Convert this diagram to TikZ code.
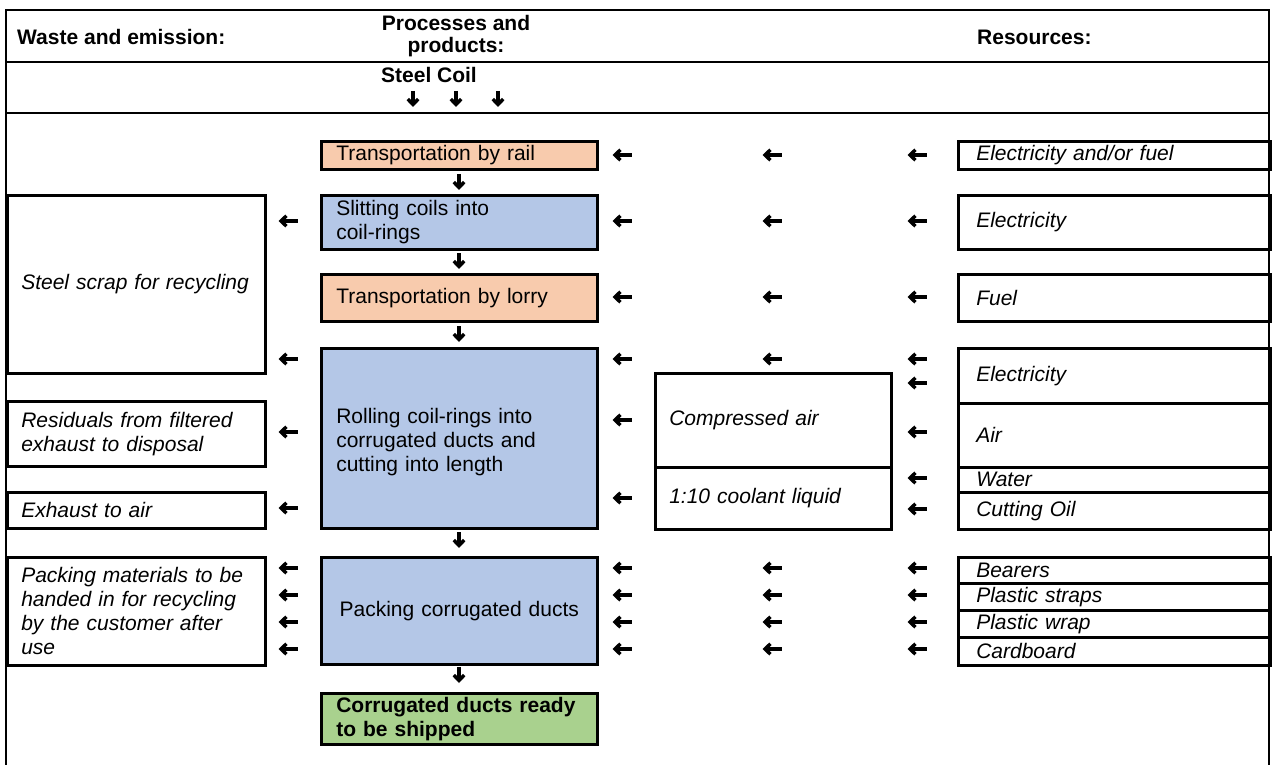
\documentclass[tikz,border=0pt]{standalone}
\usepackage{fontspec}
\setmainfont{Liberation Sans}
\usetikzlibrary{arrows.meta}
\definecolor{peach}{HTML}{F8CBAD}
\definecolor{lblue}{HTML}{B4C7E7}
\definecolor{lgreen}{HTML}{A9D18E}
\hyphenpenalty=10000
\exhyphenpenalty=10000
\newcommand\larr[2]{\draw[garr] (#1+9.5,#2) -- (#1-9.5,#2);}
\newcommand\darr[2]{\draw[garr] (#1,#2-8) -- (#1,#2+8);}
\begin{document}
\begin{tikzpicture}[x=1pt,y=-1pt,
  basefont/.style={font=\fontsize{21}{24}\selectfont},
  hdr/.style={basefont, font=\fontsize{21}{22.5}\selectfont\bfseries, inner sep=0pt},
  bx/.style={draw, line width=2.6pt, anchor=north west, inner ysep=0pt, align=left, basefont},
  pbox/.style={bx, text width=246pt, inner xsep=15pt},
  lbox/.style={bx, text width=230pt, inner xsep=14pt, font=\fontsize{21}{24}\selectfont\itshape},
  mbox/.style={bx, text width=208pt, inner xsep=14pt, font=\fontsize{21}{24}\selectfont\itshape},
  rbox/.style={bx, text width=276pt, inner xsep=18pt, font=\fontsize{21}{24}\selectfont\itshape},
  frame/.style={line width=2.6pt},
  garr/.style={line width=3.4pt, -{Straight Barb[length=5.5pt,width=10.5pt]}}
]
\useasboundingbox (0,0) rectangle (1275,765);
% frame
\draw[frame] (6,767) -- (6,10) -- (1269,10) -- (1269,767);
\draw[frame] (6,62) -- (1269,62);
\draw[frame] (6,113) -- (1269,113);
% headers
\node[hdr, anchor=west] (hw) at (17,37) {Waste and emission:};
\node[hdr, align=center] (hp) at (456,36) {Processes and\\products:};
\node[hdr, anchor=west] (hr) at (977,37) {Resources:};
\node[hdr] (coil) at (429,75) {Steel Coil};
\darr{413}{99}\darr{456}{99}\darr{498}{99}
% process column
\node[pbox, fill=peach, minimum height=28pt] (rail) at (320,140) {Transportation by rail};
\node[pbox, fill=lblue, minimum height=54pt] (slit) at (320,194) {Slitting coils into\\coil-rings};
\node[pbox, fill=peach, minimum height=47pt] (lorry) at (320,273) {Transportation by lorry};
\node[pbox, fill=lblue, minimum height=180pt] (roll) at (320,347) {\rule{0pt}{22pt}Rolling coil-rings into\\corrugated ducts and\\cutting into length};
\node[pbox, fill=lblue, minimum height=107pt, align=center] (pack) at (320,556) {Packing corrugated ducts};
\node[pbox, fill=lgreen, minimum height=51pt, font=\fontsize{21}{24}\selectfont\bfseries] (ship) at (320,692) {Corrugated ducts ready\\to be shipped};
\darr{459}{182}\darr{459}{261}\darr{459}{334}\darr{459}{540}\darr{459}{675}
% waste column
\node[lbox, minimum height=178pt] (scrap) at (6,194) {Steel scrap for recycling};
\node[lbox, minimum height=65pt] (resid) at (6,400) {Residuals from filtered\\exhaust to disposal};
\node[lbox, minimum height=36pt] (exh) at (6,491) {Exhaust to air};
\node[lbox, minimum height=108pt] (packm) at (6,556) {Packing materials to be\\handed in for recycling\\by the customer after\\use};
% middle
\node[mbox, minimum height=94pt] (cair) at (654,372) {Compressed air};
\node[mbox, minimum height=62pt] (cool) at (654,466) {1:10 coolant liquid};
% resources
\node[rbox, minimum height=28pt] (r1) at (957,140) {Electricity and/or fuel};
\node[rbox, minimum height=54pt] (r2) at (957,194) {Electricity};
\node[rbox, minimum height=47pt] (r3) at (957,273) {Fuel};
\node[rbox, minimum height=55pt] (r4) at (957,347) {Electricity};
\node[rbox, minimum height=64pt] (r5) at (957,402) {Air};
\node[rbox, minimum height=25pt] (r6) at (957,466) {Water};
\node[rbox, minimum height=37pt] (r7) at (957,491) {Cutting Oil};
\node[rbox, minimum height=26pt] (r8) at (957,556) {Bearers};
\node[rbox, minimum height=27pt] (r9) at (957,582) {Plastic straps};
\node[rbox, minimum height=27pt] (r10) at (957,609) {Plastic wrap};
\node[rbox, minimum height=28pt] (r11) at (957,636) {Cardboard};
% left arrows
\larr{622}{155}\larr{772}{155}\larr{917}{155}
\larr{288}{221}\larr{622}{221}\larr{772}{221}\larr{917}{221}
\larr{622}{297}\larr{772}{297}\larr{917}{297}
\larr{288}{359}\larr{622}{359}\larr{772}{359}\larr{917}{359}\larr{917}{383}
\larr{288}{432}\larr{622}{420}\larr{917}{432}
\larr{917}{478}
\larr{288}{508}\larr{622}{498}\larr{917}{509}
\foreach \yy in {568,595,622,649}{\larr{288}{\yy}\larr{622}{\yy}\larr{772}{\yy}\larr{917}{\yy}}
\end{tikzpicture}
\end{document}
